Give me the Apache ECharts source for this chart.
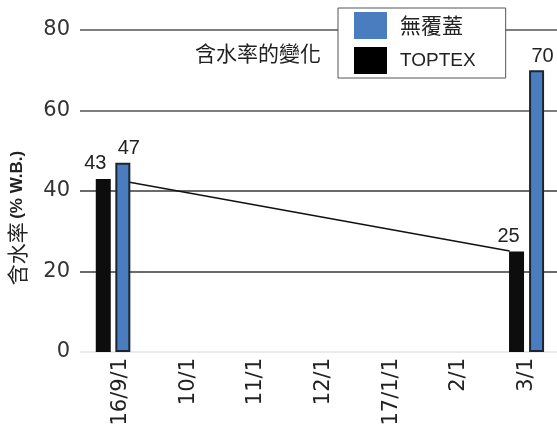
<!DOCTYPE html>
<html><head><meta charset="utf-8">
<script src="https://cdn.jsdelivr.net/npm/echarts@6/dist/echarts.min.js"></script>
<style>html,body{margin:0;padding:0;background:#fff}#c{width:557px;height:441px}</style>
</head><body><div id="c"></div>
<script>
// Tick labels (evenly spaced positions 0..6)
const xLabels = ['16/9/1', '10/1', '11/1', '12/1', '17/1/1', '2/1', '3/1'];
const xTickPositions = [0, 1, 2, 3, 4, 5, 6];
// Bar positions (in tick-label units) and values
const toptexX = [-0.256, 5.852];
const toptexY = [43, 25];
const coverX = [0.033, 6.148];
const coverY = [47, 70];
// Trend line
const lineX = [0.133, 5.75];
const lineY = [42.2, 25.1];
const yTicks = [0, 20, 40, 60, 80];

const FONT = "'Liberation Sans', 'Noto Sans CJK TC', sans-serif";
const WIDE = "'DejaVu Sans', sans-serif";
const CJK = "'Noto Sans CJK TC', sans-serif";
const zip = (a, b) => a.map((v, i) => [v, b[i]]);

const chart = echarts.init(document.getElementById('c'));
chart.setOption({
  animation: false,
  textStyle: { fontFamily: FONT },
  title: {
    text: '含水率的變化', left: 190, top: 38,
    textStyle: { fontFamily: CJK, fontSize: 21, fontWeight: 'normal', color: '#222' }
  },
  legend: {
    orient: 'vertical', left: 338, top: 8,
    backgroundColor: '#fff', borderColor: '#555', borderWidth: 1,
    padding: [4, 30, 4, 16], itemGap: 8, itemWidth: 33, itemHeight: 27,
    icon: 'rect',
    textStyle: { fontFamily: FONT, fontSize: 19, color: '#222', width: 84, align: 'center', padding: [0, 0, 0, 8] },
    data: [
      { name: '無覆蓋', itemStyle: { borderWidth: 0, color: '#4a7cc0' }, textStyle: { fontSize: 21, fontFamily: CJK } },
      { name: 'TOPTEX', itemStyle: { borderWidth: 0, color: '#000' } }
    ]
  },
  graphic: [{
    type: 'text', x: 17, y: 218, rotation: Math.PI / 2,
    style: {
      text: '{a|含水率} {b|(% W.B.)}',
      align: 'center', verticalAlign: 'middle',
      rich: {
        a: { fontFamily: CJK, fontSize: 21, fill: '#222' },
        b: { fontFamily: FONT, fontSize: 17, fontWeight: 'bold', fill: '#222' }
      }
    }
  }],
  grid: { left: 80, right: 0, top: 30, bottom: 89, containLabel: false },
  xAxis: {
    type: 'value', min: -0.6, max: 6.45,
    axisLine: { show: false }, axisTick: { show: false }, splitLine: { show: false },
    axisLabel: {
      customValues: xTickPositions,
      formatter: v => xLabels[Math.round(v)],
      rotate: 90, fontSize: 21, color: '#222', margin: 6, fontFamily: WIDE
    }
  },
  yAxis: {
    type: 'value', min: 0, max: 80, interval: 20,
    axisLine: { show: false }, axisTick: { show: false },
    axisLabel: { fontSize: 21, color: '#333', margin: 10, fontFamily: WIDE,
      formatter: v => yTicks.includes(v) ? String(v) : '' },
    splitLine: { lineStyle: { color: ['#e4e4e4', '#3a3a3a', '#3a3a3a', '#555', '#555'], width: 1.6 } }
  },
  series: [
    {
      name: '無覆蓋', type: 'bar', barWidth: 15, barGap: '-100%',
      data: zip(coverX, coverY),
      itemStyle: { color: '#4a7cc0', borderColor: '#1c2533', borderWidth: 2 },
      label: { show: true, position: 'top', distance: 4, fontSize: 20, color: '#222', fontFamily: FONT,
        formatter: p => String(p.value[1]), offset: [6, 0] },
      z: 3
    },
    {
      name: 'TOPTEX', type: 'bar', barWidth: 15, barGap: '-100%',
      data: zip(toptexX, toptexY),
      itemStyle: { color: '#0d0d0d' },
      label: { show: true, position: 'top', distance: 5, fontSize: 20, color: '#222', fontFamily: FONT,
        formatter: p => String(p.value[1]), offset: [-8, 0] },
      z: 3
    },
    {
      name: 'trend', type: 'line', data: zip(lineX, lineY),
      symbol: 'none', lineStyle: { color: '#111', width: 1.5 }, z: 2
    }
  ]
});
</script></body></html>
